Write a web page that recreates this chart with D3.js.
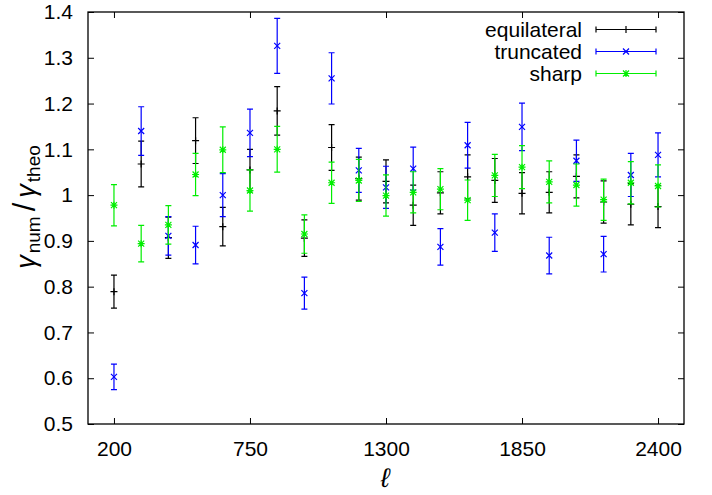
<!DOCTYPE html>
<html>
<head>
<meta charset="utf-8">
<script src="https://cdn.jsdelivr.net/npm/d3@7"></script>
<style>
  body { margin: 0; background: #fff; }
  text { font-family: "Liberation Sans", Arial, sans-serif; }
</style>
</head>
<body>
<svg id="chart" width="712" height="495"></svg>
<script>
// multipoles
var ells = [200, 310, 420, 530, 640, 750, 860, 970, 1080, 1190, 1300,
            1410, 1520, 1630, 1740, 1850, 1960, 2070, 2180, 2290, 2400];

// ratio and error for each shape
var equilateral = [0.789, 1.068, 0.907, 1.119, 0.931, 1.055, 1.184, 0.906, 1.104, 1.036, 1.030,
                   0.978, 1.005, 1.040, 1.032, 1.004, 1.006, 1.041, 0.985, 0.980, 0.975];
var equilateralErr = [0.036, 0.050, 0.045, 0.050, 0.042, 0.045, 0.053, 0.040, 0.050, 0.047, 0.047,
                      0.044, 0.046, 0.048, 0.048, 0.045, 0.045, 0.047, 0.046, 0.045, 0.046];
var truncated = [0.603, 1.140, 0.911, 0.891, 1.000, 1.136, 1.326, 0.786, 1.255, 1.054, 1.017,
                 1.058, 0.887, 1.109, 0.918, 1.149, 0.868, 1.075, 0.871, 1.044, 1.088];
var truncatedErr = [0.028, 0.053, 0.042, 0.041, 0.047, 0.052, 0.060, 0.035, 0.056, 0.048, 0.046,
                    0.047, 0.040, 0.050, 0.041, 0.052, 0.040, 0.045, 0.039, 0.047, 0.048];
var sharp = [0.978, 0.894, 0.935, 1.045, 1.099, 1.010, 1.100, 0.915, 1.027, 1.032, 0.999,
             1.006, 1.013, 0.989, 1.043, 1.061, 1.029, 1.022, 0.990, 1.027, 1.020];
var sharpErr = [0.045, 0.040, 0.042, 0.046, 0.050, 0.045, 0.050, 0.042, 0.045, 0.046, 0.045,
                0.045, 0.045, 0.044, 0.046, 0.047, 0.046, 0.046, 0.045, 0.046, 0.046];

var xTicks = [200, 750, 1300, 1850, 2400];
var yTicks = [0.5, 0.6, 0.7, 0.8, 0.9, 1.0, 1.1, 1.2, 1.3, 1.4];

var series = [
    {name: "equilateral", color: "#000000", marker: "plus", vals: equilateral, errs: equilateralErr},
    {name: "truncated", color: "#0000ff", marker: "cross", vals: truncated, errs: truncatedErr},
    {name: "sharp", color: "#00ee00", marker: "star", vals: sharp, errs: sharpErr}
];

var svg = d3.select("#chart");
var mLeft = 88, mRight = 684, mTop = 12, mBottom = 424;
var fontSize = 21;

var x = d3.scaleLinear().domain([95, 2505]).range([mLeft, mRight]);
var y = d3.scaleLinear().domain([0.5, 1.4]).range([mBottom, mTop]);

// ticks, inward and mirrored
var tickLen = 6;
var xAxisB = d3.axisBottom(x).tickValues(xTicks).tickSizeInner(-tickLen).tickSizeOuter(0)
    .tickPadding(17).tickFormat(d3.format("d"));
var xAxisT = d3.axisTop(x).tickValues(xTicks).tickSizeInner(-tickLen).tickSizeOuter(0).tickFormat("");
var yAxisL = d3.axisLeft(y).tickValues(yTicks).tickSizeInner(-tickLen).tickSizeOuter(0).tickPadding(15)
    .tickFormat(function(d) { return d === 1 ? "1" : d3.format(".1f")(d); });
var yAxisR = d3.axisRight(y).tickValues(yTicks).tickSizeInner(-tickLen).tickSizeOuter(0).tickFormat("");

function styleAxis(g) {
    g.select(".domain").remove();
    g.selectAll("line").attr("stroke", "#000").attr("stroke-width", 1);
    g.selectAll("text").attr("font-size", fontSize).attr("fill", "#000")
        .attr("font-family", "'Liberation Sans', Arial, sans-serif");
}

svg.append("g").attr("transform", "translate(0," + mBottom + ")").call(xAxisB).call(styleAxis);
svg.append("g").attr("transform", "translate(0," + mTop + ")").call(xAxisT).call(styleAxis);
svg.append("g").attr("transform", "translate(" + mLeft + ",0)").call(yAxisL).call(styleAxis);
svg.append("g").attr("transform", "translate(" + mRight + ",0)").call(yAxisR).call(styleAxis);

// frame
svg.append("rect")
    .attr("x", mLeft).attr("y", mTop)
    .attr("width", mRight - mLeft).attr("height", mBottom - mTop)
    .attr("fill", "none").attr("stroke", "#000").attr("stroke-width", 1.3);

function drawMarker(g, kind, cx, cy, color) {
    var s = 3.5;
    var p = "";
    if (kind === "plus") {
        p = "M" + (cx - s) + "," + cy + "H" + (cx + s) + "M" + cx + "," + (cy - s) + "V" + (cy + s);
    } else if (kind === "cross") {
        var t = 3;
        p = "M" + (cx - t) + "," + (cy - t) + "L" + (cx + t) + "," + (cy + t) +
            "M" + (cx - t) + "," + (cy + t) + "L" + (cx + t) + "," + (cy - t);
    } else {
        var t2 = 3;
        p = "M" + (cx - s) + "," + cy + "H" + (cx + s) + "M" + cx + "," + (cy - s) + "V" + (cy + s) +
            "M" + (cx - t2) + "," + (cy - t2) + "L" + (cx + t2) + "," + (cy + t2) +
            "M" + (cx - t2) + "," + (cy + t2) + "L" + (cx + t2) + "," + (cy - t2);
    }
    g.append("path").attr("d", p).attr("stroke", color).attr("stroke-width", 1.2).attr("fill", "none");
}

var cap = 3;
series.forEach(function(s) {
    var g = svg.append("g");
    s.vals.forEach(function(v, i) {
        var cx = x(ells[i]);
        var y1 = y(v + s.errs[i]), y0 = y(v - s.errs[i]);
        g.append("path")
            .attr("d", "M" + cx + "," + y1 + "V" + y0 +
                       "M" + (cx - cap) + "," + y1 + "H" + (cx + cap) +
                       "M" + (cx - cap) + "," + y0 + "H" + (cx + cap))
            .attr("stroke", s.color).attr("stroke-width", 1.2).attr("fill", "none");
        drawMarker(g, s.marker, cx, y(v), s.color);
    });
});

// legend
var legX0 = 596, legX1 = 656, legTextX = 582;
series.forEach(function(s, i) {
    var ly = 29.5 + i * 22;
    var g = svg.append("g");
    g.append("text").attr("x", legTextX).attr("y", ly).attr("dy", "0.35em")
        .attr("text-anchor", "end").attr("font-size", fontSize).text(s.name);
    g.append("path")
        .attr("d", "M" + legX0 + "," + ly + "H" + legX1 +
                   "M" + legX0 + "," + (ly - cap) + "V" + (ly + cap) +
                   "M" + legX1 + "," + (ly - cap) + "V" + (ly + cap))
        .attr("stroke", s.color).attr("stroke-width", 1.2);
    drawMarker(g, s.marker, (legX0 + legX1) / 2, ly, s.color);
});

// axis titles
svg.append("text")
    .attr("x", 385).attr("y", 487)
    .attr("text-anchor", "middle")
    .attr("font-family", "'DejaVu Serif', serif").attr("font-style", "italic")
    .attr("font-size", 27).text("ℓ");

var yl = svg.append("text")
    .attr("transform", "translate(35,207) rotate(-90)")
    .attr("text-anchor", "middle")
    .attr("font-family", "'DejaVu Serif', serif").attr("font-size", 27);
yl.append("tspan").attr("font-style", "italic").text("γ");
yl.append("tspan").attr("font-size", 19).attr("dy", 5).attr("dx", 2).text("num");
yl.append("tspan").attr("dy", -5).attr("dx", 5).attr("font-size", 31).text("/");
yl.append("tspan").attr("font-style", "italic").attr("dx", 5).text("γ");
yl.append("tspan").attr("font-size", 19).attr("dy", 5).attr("dx", 2).text("theo");
</script>
</body>
</html>
